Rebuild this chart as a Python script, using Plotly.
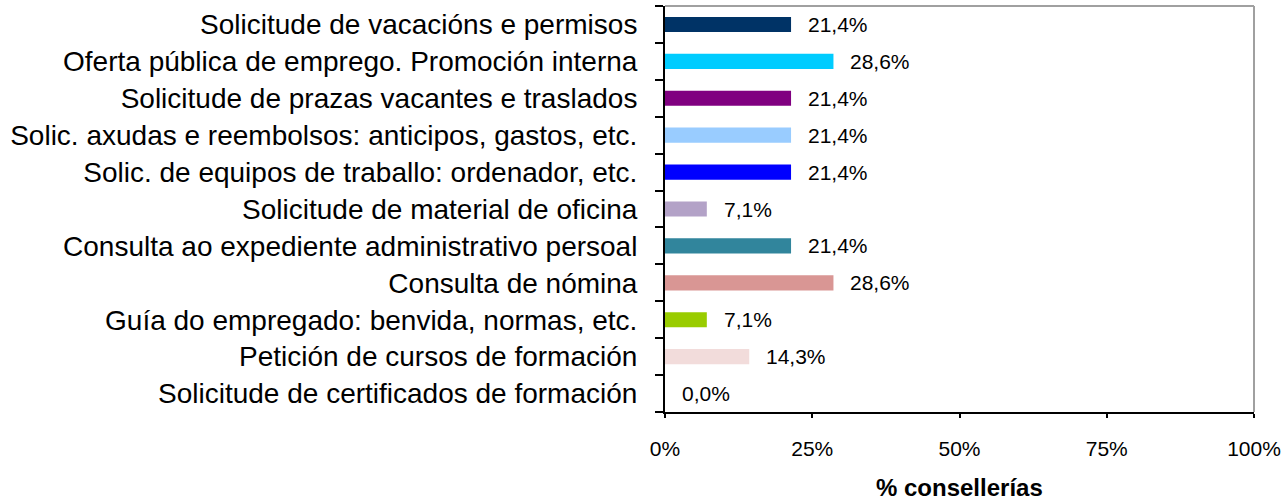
import plotly.graph_objects as go

categories = [
    "Solicitude de vacacións e permisos",
    "Oferta pública de emprego. Promoción interna",
    "Solicitude de prazas vacantes e traslados",
    "Solic. axudas e reembolsos: anticipos, gastos, etc.",
    "Solic. de equipos de traballo: ordenador, etc.",
    "Solicitude de material de oficina",
    "Consulta ao expediente administrativo persoal",
    "Consulta de nómina",
    "Guía do empregado: benvida, normas, etc.",
    "Petición de cursos de formación",
    "Solicitude de certificados de formación",
]
values = [21.4, 28.6, 21.4, 21.4, 21.4, 7.1, 21.4, 28.6, 7.1, 14.3, 0.0]
labels = ["21,4%", "28,6%", "21,4%", "21,4%", "21,4%", "7,1%", "21,4%", "28,6%", "7,1%", "14,3%", "0,0%"]
colors = ["#003366", "#00CCFF", "#800080", "#99CCFF", "#0000FF", "#B3A2C7",
          "#31859C", "#D99694", "#99CC00", "#F2DCDB", "#FFFFFF"]
x_ticks = [0, 25, 50, 75, 100]
x_ticktext = ["0%", "25%", "50%", "75%", "100%"]
x_title = "% consellerías"

FONT = "Liberation Sans, Arial, sans-serif"

fig = go.Figure()
fig.add_trace(go.Bar(
    y=categories, x=values, orientation="h",
    marker=dict(color=colors, line=dict(width=0)),
    width=0.41, showlegend=False, hoverinfo="skip",
))
for c, v, t in zip(categories, values, labels):
    fig.add_annotation(x=v, y=c, text=t, showarrow=False, xanchor="left",
                       xshift=15, font=dict(family=FONT, size=21, color="#000000"))

fig.add_annotation(x=0.5, y=-0.185, xref="paper", yref="paper", text="<b>" + x_title + "</b>",
                   showarrow=False, xanchor="center", yanchor="middle",
                   font=dict(family=FONT, size=24, color="#000000"))

fig.update_layout(
    width=1285, height=501,
    margin=dict(l=665, r=31, t=6, b=89, autoexpand=False),
    paper_bgcolor="white", plot_bgcolor="white",
    font=dict(family=FONT, color="#000000"),
)
fig.update_xaxes(
    range=[0, 100], tickvals=x_ticks, ticktext=x_ticktext,
    ticks="outside", ticklen=4, tickcolor="black", tickwidth=2,
    showline=True, linecolor="black", linewidth=2,
    showgrid=False, zeroline=False,
    tickfont=dict(family=FONT, size=21), ticklabelstandoff=13,
)
fig.update_yaxes(
    categoryorder="array", categoryarray=categories[::-1],
    autorange=False, range=[-0.5, len(categories) - 0.5],
    ticks="outside", ticklen=8, tickcolor="black", tickwidth=2,
    tickson="boundaries",
    showline=True, linecolor="black", linewidth=2,
    showgrid=False, zeroline=False,
    tickfont=dict(family=FONT, size=28), ticklabelstandoff=20,
)
# gray border on top and right
fig.add_shape(type="line", xref="paper", yref="paper", x0=0, x1=1, y0=1, y1=1,
              line=dict(color="#A0A0A0", width=2))
fig.add_shape(type="line", xref="paper", yref="paper", x0=1, x1=1, y0=0, y1=1,
              line=dict(color="#A0A0A0", width=2))

fig.write_html("out.html", config={"displayModeBar": False},
               post_script="document.body.style.margin='0';")
